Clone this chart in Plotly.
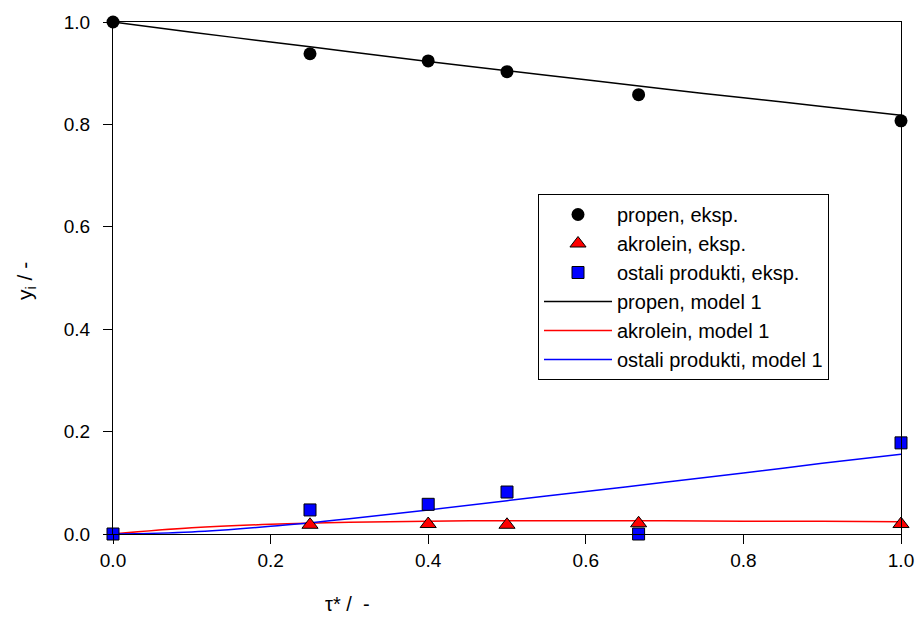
import plotly.graph_objects as go

# experimental data
tau_exp = [0.0, 0.25, 0.4, 0.5, 0.667, 1.0]
propen_exp = [1.0, 0.938, 0.924, 0.903, 0.858, 0.807]
akrolein_tau = [0.25, 0.4, 0.5, 0.667, 1.0]
akrolein_exp = [0.018, 0.0195, 0.018, 0.021, 0.0195]
ostali_exp = [0.0, 0.047, 0.058, 0.082, 0.0, 0.178]

# model 1 curves
tau_model = [0.0, 0.1, 0.2, 0.3, 0.4, 0.5, 0.6, 0.7, 0.8, 0.9, 1.0]
propen_model = [1.0, 0.980, 0.961, 0.942, 0.923, 0.905, 0.887, 0.869, 0.852, 0.835, 0.818]
akrolein_model = [0.0, 0.012, 0.019, 0.023, 0.025, 0.026, 0.026, 0.026, 0.025, 0.025, 0.024]
ostali_model = [0.0, 0.004, 0.015, 0.030, 0.047, 0.065, 0.083, 0.101, 0.119, 0.138, 0.156]

FONT = "Liberation Sans, Arial, sans-serif"

fig = go.Figure()
# model lines (drawn first, under markers)
fig.add_trace(go.Scatter(x=tau_model, y=propen_model, mode="lines", name="propen, model 1",
                         legendrank=4, line=dict(color="black", width=1.5, shape="spline")))
fig.add_trace(go.Scatter(x=tau_model, y=akrolein_model, mode="lines", name="akrolein, model 1",
                         legendrank=5, line=dict(color="red", width=1.5, shape="spline")))
fig.add_trace(go.Scatter(x=tau_model, y=ostali_model, mode="lines", name="ostali produkti, model 1",
                         legendrank=6, line=dict(color="blue", width=1.5, shape="spline")))
# experimental markers (on the overlaying y2 axis, same [0, 1] scale, drawn on top)
fig.add_trace(go.Scatter(x=tau_exp, y=propen_exp, mode="markers", name="propen, eksp.",
                         legendrank=1, yaxis="y2",
                         marker=dict(symbol="circle", size=13, color="black"), cliponaxis=False))
fig.add_trace(go.Scatter(x=akrolein_tau, y=akrolein_exp, mode="markers", name="akrolein, eksp.",
                         legendrank=2, yaxis="y2",
                         marker=dict(symbol="triangle-up", size=14, color="red",
                                     line=dict(color="black", width=1)), cliponaxis=False))
fig.add_trace(go.Scatter(x=tau_exp, y=ostali_exp, mode="markers", name="ostali produkti, eksp.",
                         legendrank=3, yaxis="y2",
                         marker=dict(symbol="square", size=12, color="blue",
                                     line=dict(color="black", width=1)), cliponaxis=False))

axis_common = dict(showline=True, linecolor="black", linewidth=1.3, mirror=True,
                   ticks="outside", ticklen=9, tickwidth=1, tickcolor="black",
                   showgrid=False, zeroline=False, tickformat=".1f", automargin=False,
                   tickfont=dict(family=FONT, size=19, color="black"))

fig.update_layout(
    width=919, height=619,
    margin=dict(l=113, r=18, t=22, b=85),
    plot_bgcolor="white", paper_bgcolor="white",
    font=dict(family=FONT, size=18, color="black"),
    xaxis=dict(range=[0, 1], dtick=0.2, **axis_common),
    yaxis=dict(range=[0, 1], dtick=0.2, showticklabels=False, **axis_common),
    # label-only axis sharing the same scale, pushing tick labels further from the frame
    yaxis2=dict(range=[0, 1], dtick=0.2, overlaying="y", anchor="x", side="left",
                showline=False, showgrid=False, zeroline=False, automargin=False,
                ticks="outside", ticklen=18, tickcolor="rgba(0,0,0,0)", tickformat=".1f",
                tickfont=dict(family=FONT, size=19, color="black")),
    showlegend=True,
    legend=dict(x=(538 - 113) / 788, y=(534 - 194) / 512, xanchor="left", yanchor="top",
                bordercolor="black", borderwidth=1, bgcolor="white",
                font=dict(family=FONT, size=20, color="black"),
                traceorder="normal", itemwidth=68),
    annotations=[
        dict(text="τ* /  -", xref="paper", yref="paper", x=(347 - 113) / 788,
             y=-(604 - 534) / 512, xanchor="center", yanchor="middle", showarrow=False,
             font=dict(family=FONT, size=20, color="black")),
        dict(text="y<sub>i</sub> / -", xref="paper", yref="paper", x=(26 - 113) / 788,
             y=(534 - 281) / 512, xanchor="center", yanchor="middle", showarrow=False,
             textangle=-90, font=dict(family=FONT, size=21, color="black")),
    ],
)

fig.write_html("out.html", config={"displayModeBar": False},
               post_script="document.body.style.margin='0';")
